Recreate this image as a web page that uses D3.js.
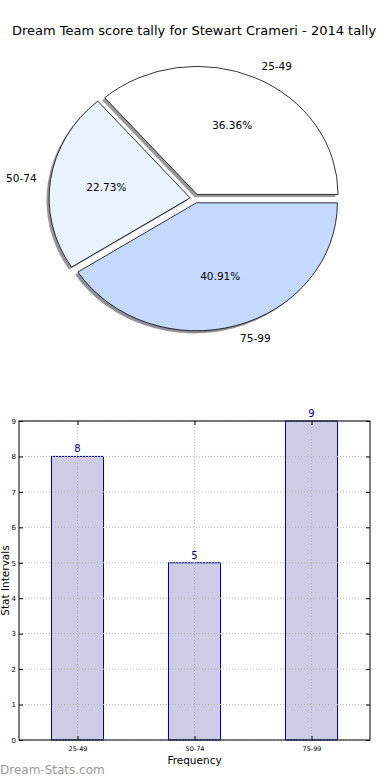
<!DOCTYPE html>
<html>
<head>
<meta charset="utf-8">
<script src="https://cdn.jsdelivr.net/npm/d3@7"></script>
<style>
  html, body { margin: 0; padding: 0; background: #fff; }
  svg { display: block; font-family: "DejaVu Sans", sans-serif; }
</style>
</head>
<body>
<svg id="chart" width="390" height="780"></svg>
<script>
const title = "Dream Team score tally for Stewart Crameri - 2014 tally";
const categories = ["25-49", "50-74", "75-99"];
const counts = [8, 5, 9];
const pieColors = ["#ffffff", "#eaf1ff", "#c5d9ff"];
const yTicks = [0, 1, 2, 3, 4, 5, 6, 7, 8, 9];
const xLabel = "Frequency";
const yLabel = "Stat Intervals";
const watermark = "Dream-Stats.com";

(function () {
const svg = d3.select("#chart");

svg.append("text").attr("x", 194).attr("y", 30).attr("text-anchor", "middle")
  .attr("dominant-baseline", "central").attr("font-size", 13).attr("fill", "#000").text(title);

// ---------- Pie ----------
const cx = 195, cy = 198.5, rx = 141, ry = 128, explode = 0.035;
const total = d3.sum(counts);
const pie = d3.pie().sort(null).startAngle(Math.PI / 2).endAngle(Math.PI / 2 - 2 * Math.PI);
const arcs = pie(counts);
const arcGen = d3.arc().innerRadius(0).outerRadius(1);

function shade(c) {
  const col = d3.rgb(c);
  const f = v => Math.round(0.3 * v * 0.5 + 255 * 0.45);
  return d3.rgb(f(col.r), f(col.g), f(col.b)).toString();
}

const pg = svg.append("g");
arcs.forEach((a, i) => {
  const m = (a.startAngle + a.endAngle) / 2;
  const ox = cx + Math.sin(m) * explode * rx;
  const oy = cy - Math.cos(m) * explode * ry;
  pg.append("path").attr("d", arcGen(a))
    .attr("transform", `translate(${ox - 2.6},${oy + 2.6}) scale(${rx},${ry})`)
    .attr("fill", shade(pieColors[i])).attr("stroke", "none");
});
arcs.forEach((a, i) => {
  const m = (a.startAngle + a.endAngle) / 2;
  const ox = cx + Math.sin(m) * explode * rx;
  const oy = cy - Math.cos(m) * explode * ry;
  pg.append("path").attr("d", arcGen(a))
    .attr("transform", `translate(${ox},${oy}) scale(${rx},${ry})`)
    .attr("fill", pieColors[i]).attr("stroke", "#000").attr("stroke-width", 0.8)
    .attr("vector-effect", "non-scaling-stroke").attr("stroke-linejoin", "miter");
  const lx = ox + Math.sin(m) * 1.1 * rx;
  const ly = oy - Math.cos(m) * 1.1 * ry;
  pg.append("text").attr("x", lx).attr("y", ly)
    .attr("text-anchor", Math.sin(m) > 0 ? "start" : "end")
    .attr("dominant-baseline", "central").attr("font-size", 10.5).attr("fill", "#000")
    .text(categories[i]);
  const px = ox + Math.sin(m) * 0.6 * rx;
  const py = oy - Math.cos(m) * 0.6 * ry;
  pg.append("text").attr("x", px).attr("y", py).attr("text-anchor", "middle")
    .attr("dominant-baseline", "central").attr("font-size", 10.5).attr("fill", "#000")
    .text((counts[i] / total * 100).toFixed(2) + "%");
});

// ---------- Bar chart ----------
const pLeft = 19, pRight = 370, pTop = 421, pBottom = 740;
const x = d3.scalePoint().domain(categories).range([pLeft, pRight]).padding(0.5);
const y = d3.scaleLinear().domain([0, 9]).range([pBottom, pTop]);
const bw = x.step() * 0.445;
const bg = svg.append("g");

bg.selectAll("rect.bar").data(categories).enter().append("rect")
  .attr("x", d => x(d) - bw / 2).attr("width", bw)
  .attr("y", (d, i) => y(counts[i])).attr("height", (d, i) => y(0) - y(counts[i]))
  .attr("fill", "#cccce5").attr("stroke", "#000080").attr("stroke-width", 1);

yTicks.forEach(t => {
  bg.append("line").attr("x1", pLeft).attr("x2", pRight).attr("y1", y(t)).attr("y2", y(t))
    .attr("stroke", "#b8b8b8").attr("stroke-width", 1).attr("stroke-dasharray", "1,2");
});
categories.forEach(c => {
  bg.append("line").attr("x1", x(c)).attr("x2", x(c)).attr("y1", pTop).attr("y2", pBottom)
    .attr("stroke", "#b8b8b8").attr("stroke-width", 1).attr("stroke-dasharray", "1,2");
});

categories.forEach((c, i) => {
  bg.append("text").attr("x", x(c)).attr("y", y(counts[i]) - 4).attr("text-anchor", "middle")
    .attr("font-size", 10).attr("fill", "#000080").text(counts[i]);
});

const yAxisL = d3.axisLeft(y).tickValues(yTicks).tickSize(-4).tickPadding(3).tickFormat(d3.format("d"));
const yAxisR = d3.axisRight(y).tickValues(yTicks).tickSize(-4).tickFormat("");
const xAxisB = d3.axisBottom(x).tickSize(-4).tickPadding(6);
const xAxisT = d3.axisTop(x).tickSize(-4).tickFormat("");

const gl = bg.append("g").attr("transform", `translate(${pLeft},0)`).call(yAxisL);
const gr = bg.append("g").attr("transform", `translate(${pRight},0)`).call(yAxisR);
const gb = bg.append("g").attr("transform", `translate(0,${pBottom})`).call(xAxisB);
const gt = bg.append("g").attr("transform", `translate(0,${pTop})`).call(xAxisT);
[gl, gr, gb, gt].forEach(g => {
  g.select(".domain").remove();
  g.selectAll(".tick line").attr("stroke", "#000");
  g.selectAll("text").attr("font-family", "DejaVu Sans, sans-serif").attr("font-size", 7).attr("fill", "#000");
});
gb.selectAll("text").attr("font-size", 6.5);

bg.append("rect").attr("x", pLeft).attr("y", pTop).attr("width", pRight - pLeft).attr("height", pBottom - pTop)
  .attr("fill", "none").attr("stroke", "#000").attr("stroke-width", 1);

svg.append("text").attr("x", (pLeft + pRight) / 2).attr("y", 760).attr("text-anchor", "middle")
  .attr("dominant-baseline", "central").attr("font-size", 10.5).attr("fill", "#000").text(xLabel);
svg.append("text").attr("transform", `translate(5,${(pTop + pBottom) / 2}) rotate(-90)`)
  .attr("text-anchor", "middle").attr("dominant-baseline", "central")
  .attr("font-size", 10.5).attr("fill", "#000").text(yLabel);

svg.append("text").attr("x", 0).attr("y", 770).attr("dominant-baseline", "central")
  .attr("font-size", 12).attr("fill", "#999999").text(watermark);
})();
</script>
</body>
</html>
